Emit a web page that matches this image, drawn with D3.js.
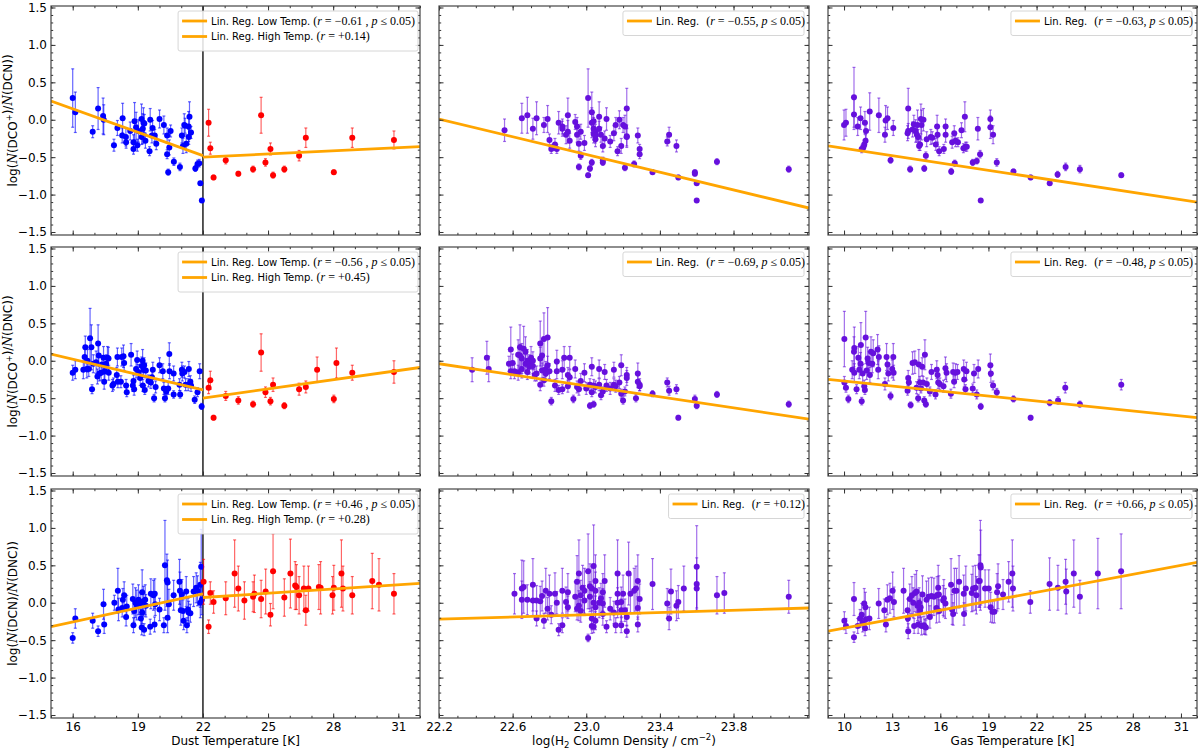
<!DOCTYPE html>
<html>
<head>
<meta charset="utf-8">
<script src="https://cdn.jsdelivr.net/npm/d3@7"></script>
<style>
body { margin: 0; background: #fff; }
text { font-family: "DejaVu Sans", sans-serif; }
</style>
</head>
<body>
<svg id="chart" width="1200" height="752"></svg>
<script>
// tick labels
var dustTicks = [16, 19, 22, 25, 28, 31];
var nh2Ticks = [22.2, 22.6, 23.0, 23.4, 23.8];
var gasTicks = [10, 13, 16, 19, 22, 25, 28, 31];
var yTicks = [-1.5, -1.0, -0.5, 0.0, 0.5, 1.0, 1.5];

// [x, y, err]
var dcoDcnDustLow = [[16.0,0.29,0.39],[16.12,0.10,0.27],[16.92,-0.16,0.08],[17.17,0.15,0.28],[17.4,0.05,0.24],[17.43,0.0,0.2],[17.9,-0.34,0.08],[18.06,-0.11,0.1],[18.3,0.02,0.2],[18.28,-0.21,0.1],[18.45,-0.23,0.12],[18.46,-0.30,0.08],[18.65,-0.15,0.12],[18.8,-0.39,0.07],[18.8,-0.30,0.1],[18.85,-0.02,0.25],[18.92,-0.10,0.2],[18.98,-0.34,0.08],[19.03,-0.15,0.15],[19.17,0.01,0.2],[19.18,-0.23,0.1],[19.23,-0.12,0.2],[19.26,-0.04,0.2],[19.3,-0.05,0.12],[19.35,-0.28,0.1],[19.54,-0.42,0.06],[19.57,0.0,0.15],[19.65,-0.21,0.1],[19.68,-0.11,0.1],[19.78,-0.21,0.08],[19.85,-0.32,0.08],[20.0,0.01,0.12],[20.2,-0.07,0.12],[20.35,-0.21,0.1],[20.35,-0.46,0.06],[20.4,-0.70,0.04],[20.45,-0.37,0.1],[20.51,-0.15,0.08],[20.66,-0.56,0.05],[20.94,-0.63,0.05],[21.03,-0.21,0.1],[21.08,-0.35,0.1],[21.14,-0.07,0.15],[21.18,-0.08,0.1],[21.23,-0.32,0.12],[21.34,-0.09,0.2],[21.35,-0.23,0.1],[21.38,0.04,0.2],[21.45,-0.17,0.08],[21.65,-0.65,0.04],[21.75,-0.59,0.05],[21.83,-0.58,0.05],[21.88,-0.85,0.02],[21.95,-1.08,0.02]];
var dcoDcnDustHigh = [[22.26,-0.04,0.18],[22.34,-0.38,0.08],[22.49,-0.77,0.03],[23.05,-0.54,0.05],[23.63,-0.72,0.03],[24.31,-0.66,0.04],[24.68,0.06,0.24],[24.88,-0.57,0.05],[25.11,-0.39,0.08],[25.23,-0.74,0.04],[25.75,-0.66,0.04],[26.43,-0.48,0.07],[26.74,-0.24,0.13],[28.03,-0.70,0.03],[28.88,-0.24,0.13],[30.8,-0.27,0.12]];
var dcoDcnNh2 = [[22.556,-0.14,0.15],[22.65,0.02,0.2],[22.68,0.06,0.24],[22.71,-0.12,0.14],[22.73,0.02,0.22],[22.77,-0.07,0.1],[22.79,0.01,0.18],[22.8,-0.27,0.08],[22.81,-0.39,0.06],[22.83,-0.33,0.08],[22.84,-0.39,0.06],[22.85,-0.04,0.15],[22.87,-0.09,0.1],[22.87,-0.12,0.1],[22.89,-0.2,0.12],[22.9,-0.16,0.15],[22.9,0.06,0.23],[22.91,-0.28,0.1],[22.94,-0.03,0.1],[22.95,-0.2,0.1],[22.95,-0.09,0.12],[22.96,-0.63,0.04],[22.96,-0.32,0.1],[22.97,-0.48,0.05],[22.97,-0.16,0.1],[22.99,-0.31,0.1],[23.01,-0.74,0.03],[23.01,0.29,0.39],[23.02,-0.65,0.04],[23.03,-0.57,0.04],[23.03,0.1,0.27],[23.03,-0.04,0.2],[23.04,-0.12,0.15],[23.04,-0.19,0.12],[23.04,-0.02,0.12],[23.05,-0.26,0.1],[23.05,-0.16,0.1],[23.05,-0.21,0.1],[23.07,0.04,0.2],[23.07,-0.12,0.1],[23.08,-0.2,0.1],[23.09,-0.54,0.04],[23.09,-0.35,0.08],[23.09,-0.57,0.04],[23.1,-0.25,0.1],[23.11,0.01,0.15],[23.13,-0.29,0.08],[23.15,-0.18,0.1],[23.16,-0.07,0.1],[23.17,-0.42,0.06],[23.18,0.0,0.12],[23.19,-0.35,0.1],[23.2,-0.07,0.1],[23.21,-0.64,0.04],[23.21,-0.09,0.15],[23.22,-0.23,0.12],[23.22,0.15,0.27],[23.22,-0.22,0.15],[23.26,-0.59,0.04],[23.28,-0.21,0.1],[23.29,-0.46,0.06],[23.29,-0.39,0.06],[23.36,-0.7,0.03],[23.44,-0.29,0.06],[23.45,-0.2,0.1],[23.49,-0.35,0.08],[23.5,-0.77,0.03],[23.59,-0.7,0.03],[23.59,-0.72,0.03],[23.6,-0.85,0.02],[23.6,-1.08,0.02],[23.71,-0.56,0.04],[24.1,-0.66,0.04]];
var dcoDcnGas = [[10.0,-0.07,0.2],[10.12,-0.04,0.18],[10.62,0.30,0.4],[10.62,0.07,0.2],[10.85,-0.09,0.12],[11.03,0.02,0.15],[11.1,-0.39,0.05],[11.2,-0.37,0.05],[11.26,-0.33,0.06],[11.3,-0.04,0.15],[11.34,-0.28,0.08],[11.37,-0.15,0.1],[11.6,0.11,0.25],[12.17,0.06,0.23],[12.55,-0.2,0.1],[12.59,-0.01,0.2],[12.71,0.02,0.15],[12.9,-0.54,0.04],[13.07,-0.11,0.1],[13.96,-0.18,0.1],[14.0,0.15,0.27],[14.0,-0.15,0.1],[14.12,-0.66,0.04],[14.27,-0.13,0.1],[14.35,-0.06,0.12],[14.46,-0.15,0.15],[14.54,-0.2,0.1],[14.58,-0.07,0.2],[14.62,-0.23,0.1],[14.68,-0.35,0.06],[14.74,-0.33,0.08],[14.79,0.01,0.2],[14.83,-0.07,0.2],[14.95,0.0,0.15],[15.0,-0.65,0.04],[15.1,-0.48,0.05],[15.15,-0.26,0.1],[15.41,-0.23,0.1],[15.5,-0.24,0.08],[15.72,-0.33,0.08],[15.8,-0.09,0.15],[15.83,-0.2,0.1],[15.93,-0.42,0.06],[16.22,-0.39,0.06],[16.33,-0.09,0.1],[16.33,-0.2,0.1],[16.68,-0.69,0.04],[16.74,-0.3,0.08],[16.87,-0.18,0.1],[16.9,-0.58,0.04],[16.95,-0.28,0.08],[17.1,-0.3,0.06],[17.32,-0.14,0.1],[17.44,-0.38,0.06],[17.53,0.04,0.2],[17.57,-0.36,0.06],[17.65,-0.36,0.06],[18.02,-0.57,0.04],[18.27,-0.55,0.04],[18.34,-0.12,0.15],[18.48,-0.46,0.05],[18.52,-1.08,0.02],[19.12,0.01,0.12],[19.12,-0.1,0.15],[19.29,-0.2,0.12],[19.52,-0.57,0.05],[20.56,-0.69,0.03],[21.63,-0.77,0.03],[22.82,-0.85,0.02],[23.31,-0.73,0.04],[23.81,-0.63,0.05],[24.7,-0.66,0.05],[27.28,-0.74,0.03]];

var dcoDncDustLow = [[16.0,-0.16,0.1],[16.12,-0.12,0.12],[16.49,-0.12,0.12],[16.55,0.05,0.15],[16.58,0.18,0.15],[16.65,-0.11,0.12],[16.68,0.0,0.15],[16.74,-0.11,0.1],[16.8,0.3,0.4],[16.86,0.18,0.3],[16.89,-0.38,0.06],[16.95,-0.04,0.12],[17.08,-0.02,0.15],[17.14,-0.21,0.1],[17.17,0.23,0.25],[17.2,0.07,0.15],[17.23,-0.17,0.1],[17.31,-0.16,0.1],[17.35,-0.05,0.12],[17.42,0.04,0.15],[17.45,-0.28,0.1],[17.48,-0.14,0.12],[17.54,-0.04,0.12],[17.6,0.04,0.15],[17.65,0.03,0.15],[17.66,-0.16,0.1],[17.83,-0.33,0.08],[17.88,-0.31,0.08],[18.03,-0.19,0.1],[18.06,0.05,0.12],[18.08,-0.28,0.08],[18.22,-0.28,0.08],[18.26,0.05,0.12],[18.34,0.06,0.15],[18.37,-0.03,0.1],[18.46,-0.33,0.08],[18.49,-0.42,0.06],[18.69,0.08,0.15],[18.77,-0.33,0.08],[18.8,-0.27,0.08],[18.83,-0.38,0.08],[18.92,-0.11,0.12],[18.97,0.01,0.12],[19.02,-0.15,0.1],[19.11,-0.23,0.1],[19.18,-0.07,0.12],[19.22,0.0,0.15],[19.23,-0.33,0.08],[19.26,-0.12,0.1],[19.29,-0.06,0.1],[19.32,-0.39,0.06],[19.37,-0.13,0.1],[19.49,-0.27,0.08],[19.6,-0.29,0.08],[19.65,-0.22,0.1],[19.69,-0.12,0.1],[19.75,-0.5,0.05],[19.82,-0.35,0.08],[20.0,-0.06,0.1],[20.15,-0.14,0.1],[20.2,-0.37,0.08],[20.25,-0.5,0.05],[20.31,-0.41,0.06],[20.4,-0.37,0.08],[20.45,0.09,0.15],[20.46,-0.14,0.1],[20.65,-0.17,0.1],[20.65,-0.45,0.05],[20.92,-0.32,0.08],[20.95,-0.45,0.05],[21.03,-0.12,0.1],[21.05,-0.17,0.1],[21.15,-0.15,0.08],[21.2,-0.32,0.08],[21.32,-0.32,0.08],[21.35,-0.11,0.1],[21.42,-0.28,0.08],[21.45,-0.33,0.08],[21.62,-0.52,0.05],[21.75,-0.42,0.06],[21.85,-0.14,0.1],[21.94,-0.61,0.04]];
var dcoDncDustHigh = [[22.26,-0.36,0.08],[22.34,-0.26,0.12],[22.49,-0.76,0.03],[23.05,-0.47,0.06],[23.63,-0.53,0.05],[24.31,-0.58,0.04],[24.68,0.11,0.25],[24.88,-0.42,0.07],[25.11,-0.54,0.05],[25.23,-0.32,0.09],[25.75,-0.6,0.04],[26.43,-0.38,0.08],[26.74,-0.35,0.08],[27.26,-0.12,0.17],[28.03,-0.51,0.05],[28.15,-0.03,0.2],[28.88,-0.16,0.1],[30.8,-0.15,0.15]];
var dcoDncNh2 = [[22.38,-0.12,0.16],[22.46,0.04,0.22],[22.47,-0.11,0.17],[22.58,-0.04,0.1],[22.59,0.15,0.3],[22.59,-0.14,0.1],[22.6,-0.03,0.12],[22.61,-0.14,0.1],[22.63,0.08,0.2],[22.63,-0.16,0.1],[22.64,0.18,0.3],[22.64,0.07,0.15],[22.65,-0.11,0.12],[22.65,0.03,0.2],[22.66,0.16,0.3],[22.67,-0.04,0.12],[22.67,0.12,0.2],[22.68,-0.15,0.1],[22.68,0.0,0.15],[22.69,-0.04,0.12],[22.69,-0.08,0.1],[22.7,0.04,0.15],[22.71,-0.07,0.1],[22.71,0.0,0.12],[22.72,-0.19,0.08],[22.73,-0.17,0.1],[22.75,-0.32,0.08],[22.75,0.23,0.3],[22.75,0.03,0.15],[22.76,-0.13,0.1],[22.76,0.07,0.2],[22.77,-0.26,0.08],[22.77,0.29,0.35],[22.78,-0.11,0.1],[22.78,-0.17,0.1],[22.79,0.31,0.4],[22.79,-0.06,0.12],[22.8,-0.14,0.1],[22.81,-0.54,0.05],[22.83,-0.33,0.08],[22.84,-0.01,0.15],[22.84,-0.14,0.1],[22.85,-0.39,0.06],[22.87,-0.12,0.12],[22.87,-0.38,0.06],[22.88,0.04,0.15],[22.9,-0.19,0.1],[22.9,-0.34,0.08],[22.91,0.04,0.15],[22.91,-0.22,0.1],[22.93,-0.51,0.05],[22.94,-0.11,0.12],[22.95,-0.35,0.08],[22.96,-0.38,0.08],[22.97,-0.27,0.1],[22.99,-0.16,0.12],[23.0,-0.37,0.08],[23.02,-0.6,0.04],[23.02,-0.32,0.08],[23.03,-0.08,0.12],[23.03,-0.42,0.06],[23.04,-0.33,0.08],[23.04,-0.58,0.04],[23.05,-0.35,0.08],[23.07,-0.11,0.12],[23.07,-0.32,0.08],[23.08,-0.46,0.06],[23.09,-0.41,0.06],[23.1,-0.15,0.1],[23.11,-0.33,0.08],[23.13,-0.37,0.08],[23.15,-0.12,0.1],[23.15,-0.32,0.08],[23.16,-0.34,0.08],[23.18,-0.29,0.08],[23.19,-0.44,0.06],[23.19,-0.06,0.14],[23.2,-0.53,0.05],[23.21,-0.41,0.06],[23.22,-0.19,0.1],[23.22,-0.23,0.1],[23.27,-0.5,0.05],[23.28,-0.28,0.08],[23.28,-0.17,0.14],[23.29,-0.32,0.08],[23.29,-0.34,0.06],[23.36,-0.44,0.04],[23.44,-0.29,0.06],[23.45,-0.4,0.06],[23.49,-0.38,0.06],[23.5,-0.76,0.03],[23.59,-0.51,0.05],[23.6,-0.6,0.04],[23.71,-0.45,0.04],[24.1,-0.58,0.04]];
var dcoDncGas = [[10.02,0.29,0.37],[10.02,-0.29,0.08],[10.12,-0.36,0.06],[10.27,-0.51,0.05],[10.51,-0.12,0.12],[10.62,0.12,0.2],[10.64,0.17,0.28],[10.64,-0.16,0.12],[10.78,-0.38,0.06],[10.89,0.04,0.15],[10.95,-0.12,0.12],[11.03,-0.04,0.15],[11.05,0.21,0.3],[11.1,-0.54,0.05],[11.16,-0.17,0.12],[11.26,-0.34,0.08],[11.3,-0.39,0.06],[11.35,0.31,0.35],[11.41,-0.13,0.12],[11.47,0.03,0.15],[11.55,-0.03,0.15],[11.61,-0.19,0.1],[11.68,0.12,0.2],[11.76,-0.04,0.12],[11.82,0.1,0.18],[12.09,0.15,0.2],[12.13,-0.12,0.12],[12.17,0.05,0.15],[12.55,-0.31,0.08],[12.65,0.05,0.18],[12.71,-0.05,0.12],[12.76,-0.17,0.1],[12.9,-0.47,0.05],[13.0,-0.11,0.12],[13.07,0.05,0.18],[13.09,-0.16,0.1],[13.96,-0.4,0.06],[14.0,-0.23,0.1],[14.04,-0.29,0.08],[14.15,-0.59,0.04],[14.27,-0.03,0.15],[14.41,-0.02,0.15],[14.52,-0.36,0.08],[14.62,-0.5,0.05],[14.66,-0.05,0.2],[14.73,-0.29,0.08],[14.79,-0.37,0.06],[14.87,-0.08,0.12],[14.93,-0.29,0.08],[15.0,-0.53,0.05],[15.04,0.08,0.2],[15.1,-0.58,0.04],[15.16,-0.31,0.08],[15.35,-0.41,0.06],[15.45,-0.15,0.1],[15.7,-0.45,0.06],[15.78,-0.12,0.12],[15.83,-0.19,0.1],[15.87,-0.29,0.08],[15.97,-0.31,0.08],[16.2,-0.34,0.08],[16.32,-0.1,0.15],[16.39,-0.16,0.12],[16.66,-0.44,0.06],[16.8,-0.15,0.12],[16.86,-0.28,0.08],[16.95,-0.16,0.12],[17.07,-0.15,0.1],[17.46,-0.11,0.12],[17.49,-0.25,0.1],[17.57,-0.38,0.06],[17.63,-0.14,0.12],[18.02,-0.37,0.06],[18.1,-0.17,0.12],[18.27,-0.45,0.06],[18.36,-0.11,0.12],[18.52,-0.61,0.04],[19.12,-0.06,0.15],[19.15,-0.17,0.12],[19.29,-0.33,0.06],[19.52,-0.42,0.05],[20.56,-0.51,0.04],[21.63,-0.76,0.03],[22.82,-0.56,0.04],[23.34,-0.53,0.05],[23.79,-0.36,0.07],[24.7,-0.58,0.04],[27.28,-0.32,0.07]];

var dcnDncDustLow = [[16.0,-0.47,0.07],[16.12,-0.21,0.13],[16.92,-0.24,0.1],[17.17,-0.38,0.07],[17.42,-0.02,0.2],[17.45,-0.29,0.12],[17.92,0.0,0.1],[18.08,0.16,0.3],[18.11,-0.09,0.15],[18.28,-0.07,0.12],[18.31,0.04,0.15],[18.37,0.1,0.18],[18.46,-0.19,0.12],[18.49,-0.05,0.15],[18.77,0.05,0.2],[18.8,-0.3,0.1],[18.83,-0.11,0.15],[18.89,0.0,0.2],[18.95,-0.03,0.2],[19.03,0.04,0.2],[19.11,-0.01,0.15],[19.14,-0.21,0.12],[19.18,-0.33,0.1],[19.2,-0.13,0.15],[19.2,0.14,0.3],[19.26,0.02,0.2],[19.29,-0.36,0.08],[19.34,0.04,0.2],[19.37,-0.04,0.15],[19.57,-0.32,0.1],[19.6,0.12,0.2],[19.72,0.1,0.2],[19.77,-0.29,0.1],[19.78,0.12,0.2],[19.8,-0.02,0.15],[20.0,-0.09,0.15],[20.2,-0.3,0.1],[20.25,0.5,0.6],[20.34,0.3,0.35],[20.37,0.27,0.3],[20.37,-0.2,0.2],[20.43,-0.02,0.2],[20.65,0.1,0.2],[20.92,0.28,0.3],[20.94,0.16,0.25],[20.98,-0.1,0.2],[21.03,0.11,0.2],[21.08,-0.11,0.15],[21.11,-0.24,0.12],[21.23,0.15,0.2],[21.26,-0.3,0.1],[21.31,-0.09,0.15],[21.34,-0.13,0.15],[21.42,-0.14,0.12],[21.57,0.15,0.2],[21.69,0.2,0.2],[21.75,0.16,0.2],[21.88,0.0,0.2],[21.92,0.48,0.5],[21.95,0.04,0.2],[21.88,0.24,0.3]];
var dcnDncDustHigh = [[22.03,0.28,0.3],[22.26,-0.32,0.09],[22.34,0.13,0.15],[22.49,0.01,0.15],[23.05,0.06,0.22],[23.46,0.39,0.45],[23.63,0.19,0.3],[23.91,0.03,0.25],[24.31,0.08,0.2],[24.37,0.12,0.25],[24.68,0.05,0.25],[24.89,0.15,0.3],[25.11,-0.16,0.15],[25.23,0.42,0.5],[25.75,0.07,0.25],[26.03,0.39,0.46],[26.25,0.23,0.32],[26.31,0.21,0.3],[26.43,0.1,0.25],[26.65,0.19,0.3],[26.74,-0.1,0.2],[26.86,0.19,0.3],[27.34,0.21,0.3],[27.42,0.2,0.35],[27.97,0.1,0.25],[28.03,0.2,0.3],[28.38,0.39,0.45],[28.45,0.19,0.3],[28.88,0.1,0.25],[29.8,0.29,0.37],[30.11,0.24,0.35],[30.8,0.12,0.27]];
var dcnDncNh2 = [[22.61,0.12,0.27],[22.65,0.04,0.25],[22.65,0.19,0.38],[22.66,0.21,0.35],[22.68,0.04,0.2],[22.71,0.24,0.35],[22.71,0.03,0.2],[22.73,0.03,0.2],[22.73,-0.21,0.1],[22.75,0.02,0.2],[22.76,0.09,0.2],[22.77,-0.24,0.1],[22.78,0.16,0.3],[22.79,-0.08,0.15],[22.8,0.12,0.25],[22.81,-0.16,0.12],[22.83,0.12,0.28],[22.84,0.0,0.15],[22.85,-0.36,0.08],[22.87,0.16,0.3],[22.87,-0.3,0.1],[22.89,0.01,0.2],[22.9,0.14,0.25],[22.9,-0.06,0.15],[22.94,0.08,0.2],[22.95,-0.08,0.15],[22.95,0.28,0.35],[22.96,0.39,0.45],[22.96,-0.04,0.2],[22.97,0.1,0.2],[22.97,-0.11,0.15],[22.98,0.2,0.3],[22.99,0.03,0.2],[22.99,0.16,0.3],[23.01,0.42,0.5],[23.01,-0.47,0.05],[23.02,0.22,0.3],[23.02,0.08,0.2],[23.03,-0.31,0.1],[23.03,0.19,0.3],[23.03,-0.21,0.15],[23.04,0.0,0.2],[23.04,-0.32,0.08],[23.04,0.49,0.55],[23.05,-0.24,0.12],[23.05,0.29,0.35],[23.05,-0.06,0.15],[23.05,0.16,0.25],[23.07,0.0,0.2],[23.08,0.06,0.2],[23.09,0.14,0.25],[23.09,-0.01,0.2],[23.09,-0.15,0.15],[23.1,0.29,0.35],[23.11,-0.32,0.08],[23.13,-0.08,0.15],[23.15,-0.13,0.15],[23.16,-0.3,0.1],[23.17,0.0,0.2],[23.17,0.12,0.25],[23.17,0.39,0.45],[23.19,-0.3,0.1],[23.19,-0.1,0.15],[23.19,0.01,0.2],[23.2,0.12,0.25],[23.21,-0.1,0.15],[23.22,-0.38,0.08],[23.22,-0.19,0.12],[23.23,0.39,0.42],[23.24,0.12,0.25],[23.26,0.16,0.3],[23.27,0.19,0.3],[23.28,-0.29,0.1],[23.28,-0.07,0.15],[23.28,0.29,0.35],[23.29,0.05,0.2],[23.36,0.25,0.34],[23.44,-0.01,0.2],[23.45,-0.21,0.15],[23.46,0.15,0.3],[23.49,-0.04,0.2],[23.5,0.01,0.22],[23.53,0.19,0.3],[23.6,0.48,0.55],[23.6,0.25,0.35],[23.6,0.19,0.3],[23.71,0.1,0.25],[23.75,0.13,0.27],[24.1,0.08,0.22]];
var dcnDncGas = [[10.02,-0.24,0.12],[10.12,-0.31,0.1],[10.62,0.05,0.22],[10.62,-0.46,0.07],[10.85,-0.31,0.1],[11.0,-0.21,0.12],[11.1,-0.16,0.15],[11.16,-0.27,0.12],[11.26,-0.01,0.2],[11.31,-0.34,0.1],[11.33,-0.06,0.2],[11.37,-0.22,0.15],[11.58,-0.21,0.15],[12.16,-0.01,0.2],[12.51,-0.1,0.15],[12.61,-0.29,0.1],[12.7,0.04,0.2],[12.86,0.06,0.2],[13.03,0.16,0.25],[13.11,0.01,0.2],[13.71,0.16,0.3],[13.96,-0.1,0.15],[13.98,-0.21,0.12],[14.0,-0.38,0.1],[14.1,0.05,0.2],[14.23,0.1,0.25],[14.31,0.0,0.2],[14.37,-0.31,0.1],[14.42,0.13,0.25],[14.52,0.15,0.28],[14.58,-0.04,0.2],[14.62,-0.29,0.12],[14.68,0.0,0.2],[14.73,-0.1,0.15],[14.77,-0.06,0.2],[14.83,-0.31,0.12],[14.89,0.11,0.25],[14.98,-0.3,0.12],[15.04,-0.32,0.1],[15.1,-0.33,0.1],[15.14,0.04,0.25],[15.27,0.08,0.25],[15.35,-0.19,0.15],[15.45,0.09,0.25],[15.6,0.08,0.25],[15.76,-0.07,0.2],[15.8,0.1,0.25],[15.87,0.2,0.3],[15.91,0.11,0.25],[15.93,-0.11,0.15],[16.18,0.03,0.2],[16.22,0.06,0.25],[16.32,-0.01,0.2],[16.67,0.24,0.35],[16.74,-0.09,0.2],[16.8,-0.15,0.15],[16.88,0.16,0.3],[17.01,0.16,0.3],[17.17,0.28,0.35],[17.46,0.12,0.25],[17.48,-0.15,0.15],[17.59,0.19,0.3],[17.96,0.13,0.25],[18.04,0.19,0.3],[18.19,0.2,0.3],[18.25,0.1,0.25],[18.4,0.29,0.35],[18.46,0.29,0.35],[18.5,0.5,0.6],[18.52,0.47,0.5],[18.79,0.19,0.25],[19.02,0.19,0.25],[19.14,-0.06,0.2],[19.25,-0.12,0.15],[19.37,-0.12,0.15],[19.54,0.14,0.25],[19.6,0.22,0.3],[19.91,0.11,0.2],[20.26,0.28,0.27],[20.49,0.39,0.45],[20.53,0.19,0.3],[21.61,0.01,0.15],[22.81,0.25,0.35],[23.33,0.2,0.3],[23.81,0.28,0.3],[23.85,0.15,0.3],[24.32,0.39,0.45],[24.7,0.08,0.22],[25.82,0.39,0.47],[27.27,0.42,0.5]];

// regression line end points [x, y]
var fitDcoDcnLow = [[15, 0.25], [22, -0.48]];
var fitDcoDcnHigh = [[22, -0.50], [32, -0.36]];
var fitDcoDcnNh2 = [[22.2, 0.01], [24.21, -1.18]];
var fitDcoDcnGas = [[9, -0.35], [32, -1.10]];
var fitDcoDncLow = [[15, 0.09], [22, -0.39]];
var fitDcoDncHigh = [[22, -0.50], [32, -0.09]];
var fitDcoDncNh2 = [[22.2, -0.04], [24.21, -0.78]];
var fitDcoDncGas = [[9, -0.25], [32, -0.76]];
var fitDcnDncLow = [[15, -0.32], [22, 0.12]];
var fitDcnDncHigh = [[22, 0.07], [32, 0.26]];
var fitDcnDncNh2 = [[22.2, -0.22], [24.21, -0.07]];
var fitDcnDncGas = [[9, -0.38], [32, 0.54]];

// legend entries: label, r value, significant
var legDcoDcnDust = [["Lin. Reg. Low Temp.", "\u22120.61", true], ["Lin. Reg. High Temp.", "+0.14", false]];
var legDcoDncDust = [["Lin. Reg. Low Temp.", "\u22120.56", true], ["Lin. Reg. High Temp.", "+0.45", false]];
var legDcnDncDust = [["Lin. Reg. Low Temp.", "+0.46", true], ["Lin. Reg. High Temp.", "+0.28", false]];
var legDcoDcnNh2 = [["Lin. Reg.", "\u22120.55", true]];
var legDcoDcnGas = [["Lin. Reg.", "\u22120.63", true]];
var legDcoDncNh2 = [["Lin. Reg.", "\u22120.69", true]];
var legDcoDncGas = [["Lin. Reg.", "\u22120.48", true]];
var legDcnDncNh2 = [["Lin. Reg.", "+0.12", false]];
var legDcnDncGas = [["Lin. Reg.", "+0.66", true]];

var BLUE = "#0000ff", RED = "#ff0000", PURPLE = "#6610dd", ORANGE = "#ffa500";

var svg = d3.select("#chart");
var colX = [[51, 420], [439, 809], [828, 1197]];
var rowY = [[6, 235], [247, 476], [489, 718]];
var yDomain = [-1.54, 1.52];
var xCfg = [
    {domain: [15, 32], ticks: dustTicks, minor: 1, fmt: d3.format("d")},
    {domain: [22.2, 24.21], ticks: nh2Ticks, minor: 0.1, fmt: d3.format(".1f")},
    {domain: [9, 32], ticks: gasTicks, minor: 1, fmt: d3.format("d")}
];
var yLabels = [
    ["log(", ["N"], "(DCO", ["+", "sup"], ")/", ["N"], "(DCN))"],
    ["log(", ["N"], "(DCO", ["+", "sup"], ")/", ["N"], "(DNC))"],
    ["log(", ["N"], "(DCN)/", ["N"], "(DNC))"]
];

var panels = [
    {row: 0, col: 0, sets: [[dcoDcnDustLow, BLUE], [dcoDcnDustHigh, RED]], fits: [fitDcoDcnLow, fitDcoDcnHigh], legend: legDcoDcnDust, vline: 22},
    {row: 0, col: 1, sets: [[dcoDcnNh2, PURPLE]], fits: [fitDcoDcnNh2], legend: legDcoDcnNh2},
    {row: 0, col: 2, sets: [[dcoDcnGas, PURPLE]], fits: [fitDcoDcnGas], legend: legDcoDcnGas},
    {row: 1, col: 0, sets: [[dcoDncDustLow, BLUE], [dcoDncDustHigh, RED]], fits: [fitDcoDncLow, fitDcoDncHigh], legend: legDcoDncDust, vline: 22},
    {row: 1, col: 1, sets: [[dcoDncNh2, PURPLE]], fits: [fitDcoDncNh2], legend: legDcoDncNh2},
    {row: 1, col: 2, sets: [[dcoDncGas, PURPLE]], fits: [fitDcoDncGas], legend: legDcoDncGas},
    {row: 2, col: 0, sets: [[dcnDncDustLow, BLUE], [dcnDncDustHigh, RED]], fits: [fitDcnDncLow, fitDcnDncHigh], legend: legDcnDncDust, vline: 22},
    {row: 2, col: 1, sets: [[dcnDncNh2, PURPLE]], fits: [fitDcnDncNh2], legend: legDcnDncNh2},
    {row: 2, col: 2, sets: [[dcnDncGas, PURPLE]], fits: [fitDcnDncGas], legend: legDcnDncGas}
];

function minorTicks(d, step) {
    var a = Math.ceil(d[0] / step - 1e-6), b = Math.floor(d[1] / step + 1e-6);
    return d3.range(a, b + 1).map(function(k) { return +(k * step).toFixed(3); });
}

function tickAxis(g, axisFn, scale, values, size, fmt, transform) {
    var ax = g.append("g").attr("transform", transform)
        .call(axisFn(scale).tickValues(values).tickSize(-size).tickSizeOuter(0).tickPadding(4).tickFormat(fmt || function() { return ""; }));
    ax.select(".domain").remove();
    ax.attr("color", "#333").attr("font-family", "DejaVu Sans, sans-serif").attr("font-size", 12);
    ax.selectAll("text").attr("fill", "#000");
    ax.selectAll("line").attr("stroke-width", 1);
}

function mathText(sel, parts, size) {
    parts.forEach(function(p) {
        if (typeof p === "string") {
            sel.append("tspan").text(p);
        } else if (p[1] === "sup") {
            sel.append("tspan").attr("font-size", size * 0.7).attr("dy", -size * 0.4).text(p[0]);
            sel.append("tspan").attr("dy", size * 0.4).text("");
        } else {
            sel.append("tspan").attr("font-family", "DejaVu Serif, serif").attr("font-style", "italic").text(p[0]);
        }
    });
}

panels.forEach(function(p, idx) {
    var xc = xCfg[p.col];
    var x0 = colX[p.col][0], x1 = colX[p.col][1];
    var y0 = rowY[p.row][0], y1 = rowY[p.row][1];
    var x = d3.scaleLinear().domain(xc.domain).range([x0, x1]);
    var y = d3.scaleLinear().domain(yDomain).range([y1, y0]);
    var g = svg.append("g");

    g.append("clipPath").attr("id", "clip" + idx)
        .append("rect").attr("x", x0).attr("y", y0).attr("width", x1 - x0).attr("height", y1 - y0);
    var plot = g.append("g").attr("clip-path", "url(#clip" + idx + ")");

    if (p.vline) {
        plot.append("line").attr("x1", x(p.vline)).attr("x2", x(p.vline)).attr("y1", y0).attr("y2", y1)
            .attr("stroke", "#111").attr("stroke-width", 1.4);
    }

    p.sets.forEach(function(s) {
        var data = s[0], color = s[1];
        var eb = plot.append("g").attr("stroke", color).attr("stroke-opacity", 0.6).attr("stroke-width", 1.2);
        eb.selectAll("line.v").data(data).enter().append("line").attr("class", "v")
            .attr("x1", function(d) { return x(d[0]); }).attr("x2", function(d) { return x(d[0]); })
            .attr("y1", function(d) { return y(d[1] - d[2]); }).attr("y2", function(d) { return y(d[1] + d[2]); });
        eb.selectAll("line.t").data(data).enter().append("line").attr("class", "t")
            .attr("x1", function(d) { return x(d[0]) - 1.5; }).attr("x2", function(d) { return x(d[0]) + 1.5; })
            .attr("y1", function(d) { return y(d[1] + d[2]); }).attr("y2", function(d) { return y(d[1] + d[2]); });
        eb.selectAll("line.b").data(data).enter().append("line").attr("class", "b")
            .attr("x1", function(d) { return x(d[0]) - 1.5; }).attr("x2", function(d) { return x(d[0]) + 1.5; })
            .attr("y1", function(d) { return y(d[1] - d[2]); }).attr("y2", function(d) { return y(d[1] - d[2]); });
        plot.append("g").selectAll("circle").data(data).enter().append("circle")
            .attr("cx", function(d) { return x(d[0]); }).attr("cy", function(d) { return y(d[1]); })
            .attr("r", 3).attr("fill", color);
    });

    var line = d3.line().x(function(d) { return x(d[0]); }).y(function(d) { return y(d[1]); });
    p.fits.forEach(function(f) {
        plot.append("path").attr("d", line(f)).attr("fill", "none").attr("stroke", ORANGE).attr("stroke-width", 2.8);
    });

    // ticks on all four sides, pointing in
    var minorX = minorTicks(xc.domain, xc.minor), minorY = minorTicks(yDomain, 0.1);
    tickAxis(g, d3.axisBottom, x, minorX, 2.2, null, "translate(0," + y1 + ")");
    tickAxis(g, d3.axisTop, x, minorX, 2.2, null, "translate(0," + y0 + ")");
    tickAxis(g, d3.axisLeft, y, minorY, 2.2, null, "translate(" + x0 + ",0)");
    tickAxis(g, d3.axisRight, y, minorY, 2.2, null, "translate(" + x1 + ",0)");
    tickAxis(g, d3.axisBottom, x, xc.ticks, 4.5, p.row === 2 ? xc.fmt : null, "translate(0," + y1 + ")");
    tickAxis(g, d3.axisTop, x, xc.ticks, 4.5, null, "translate(0," + y0 + ")");
    tickAxis(g, d3.axisLeft, y, yTicks, 4.5, p.col === 0 ? d3.format(".1f") : null, "translate(" + x0 + ",0)");
    tickAxis(g, d3.axisRight, y, yTicks, 4.5, null, "translate(" + x1 + ",0)");

    g.append("rect").attr("x", x0).attr("y", y0).attr("width", x1 - x0).attr("height", y1 - y0)
        .attr("fill", "none").attr("stroke", "#444").attr("stroke-width", 1.2);

    // legend
    var lg = g.append("g");
    var box = lg.append("rect").attr("fill", "#fff").attr("fill-opacity", 0.85)
        .attr("stroke", "#ccc").attr("stroke-width", 0.8).attr("rx", 2);
    var maxW = 0;
    var texts = [];
    p.legend.forEach(function(e, i) {
        var t = lg.append("text").attr("font-size", 10).attr("dy", "0.35em");
        t.append("tspan").text(e[0]);
        var m = t.append("tspan").attr("font-family", "Liberation Serif, serif").attr("font-size", 12)
            .attr("dx", p.col === 0 ? 3 : 7);
        m.append("tspan").text("(");
        m.append("tspan").attr("font-style", "italic").text("r");
        m.append("tspan").text(" = " + e[1]);
        if (e[2]) {
            m.append("tspan").text(p.col === 0 ? " , " : ", ");
            m.append("tspan").attr("font-style", "italic").text("p");
            m.append("tspan").text(" \u2264 0.05");
        }
        m.append("tspan").text(")");
        maxW = Math.max(maxW, t.node().getComputedTextLength());
        texts.push(t);
    });
    var bw = 33 + maxW + 6, bh = 9 + p.legend.length * 15.5;
    var bx = (p.col === 0 ? x1 - 2 : x1 - 5) - bw, by = y0 + 5;
    box.attr("x", bx).attr("y", by).attr("width", bw).attr("height", bh);
    texts.forEach(function(t, i) {
        var ty = by + 10 + i * 15.5;
        lg.append("line").attr("x1", bx + 4).attr("x2", bx + 29).attr("y1", ty).attr("y2", ty)
            .attr("stroke", ORANGE).attr("stroke-width", 2.8);
        t.attr("x", bx + 33).attr("y", ty);
        t.select("tspan").attr("x", bx + 33);
    });

    if (p.col === 0) {
        var yl = g.append("text").attr("font-size", 12).attr("text-anchor", "middle")
            .attr("transform", "translate(17," + ((y0 + y1) / 2) + ") rotate(-90)");
        mathText(yl, yLabels[p.row], 12);
    }
});

// x axis titles
svg.append("text").attr("x", (colX[0][0] + colX[0][1]) / 2).attr("y", 745)
    .attr("text-anchor", "middle").attr("font-size", 12).text("Dust Temperature [K]");
svg.append("text").attr("x", (colX[2][0] + colX[2][1]) / 2).attr("y", 745)
    .attr("text-anchor", "middle").attr("font-size", 12).text("Gas Temperature [K]");
var mt = svg.append("text").attr("x", (colX[1][0] + colX[1][1]) / 2).attr("y", 745)
    .attr("text-anchor", "middle").attr("font-size", 12);
mt.append("tspan").text("log(H");
mt.append("tspan").attr("font-size", 8.5).attr("dy", 3).text("2");
mt.append("tspan").attr("dy", -3).text(" Column Density / cm");
mt.append("tspan").attr("font-size", 8.5).attr("dy", -5).text("\u22122");
mt.append("tspan").attr("dy", 5).text(")");
</script>
</body>
</html>
